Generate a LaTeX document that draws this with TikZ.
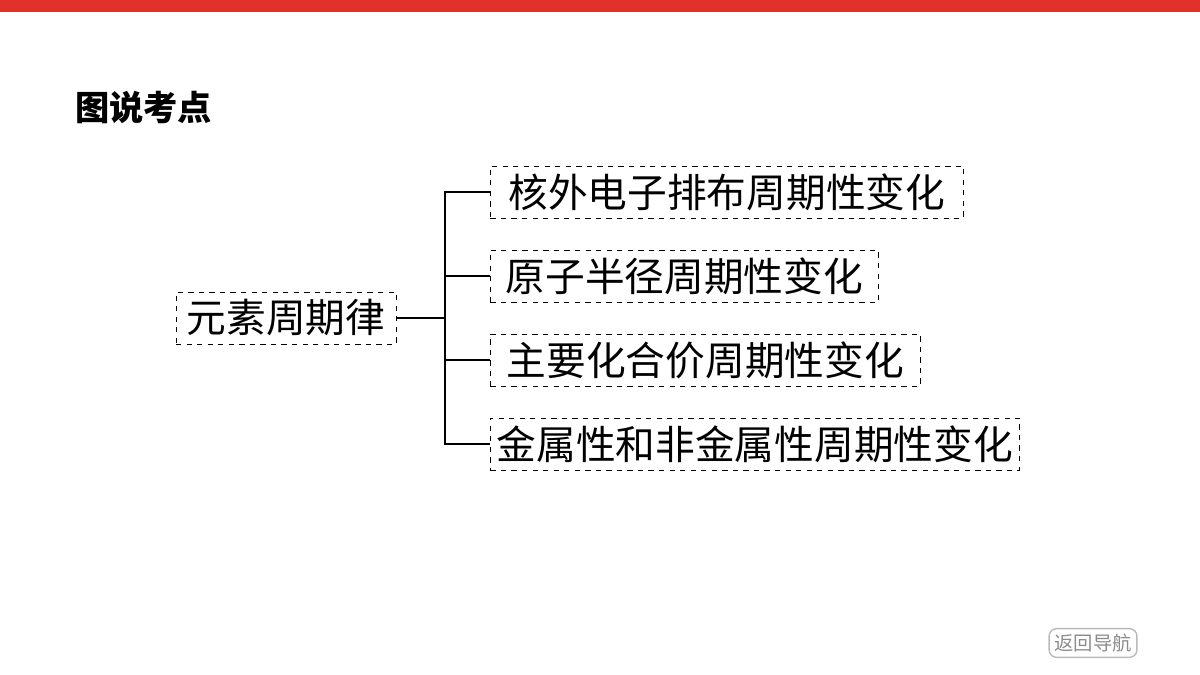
\documentclass[tikz,border=0pt]{standalone}
\usepackage{fontspec}
\setmainfont{Noto Sans CJK SC}
\newfontfamily\cjk{Noto Sans CJK SC}
\usetikzlibrary{calc}
\definecolor{barRed}{HTML}{E0312A}
\definecolor{navGray}{HTML}{8C8C8C}
\tikzset{
	box/.style={draw, dashed, inner xsep=0.12cm, inner ysep=0pt, minimum height=1.04cm,
		font=\cjk\fontsize{22.6pt}{22.6pt}\selectfont},
	kid/.style={box, anchor=west, minimum width=#1},
	link/.style={semithick}
}
\begin{document}
\begin{tikzpicture}[x=0.02cm,y=-0.02cm]
				\useasboundingbox (0,0) rectangle (1200,675);
				\fill[barRed] (0,0) rectangle (1200,12) coordinate (bar);
				\node[anchor=west, font=\cjk\bfseries\fontsize{19.5pt}{19.5pt}\selectfont] (title) at (69,108) {图说考点};
				
				\node[box, minimum width=4.4cm] (law) at (286,318) {元素周期律};
				
				\node[kid=9.46cm] (k1) at (490,192) {核外电子排布周期性变化};
				\node[kid=7.76cm] (k2) at (490,276) {原子半径周期性变化};
				\node[kid=8.6cm] (k3) at (490,360) {主要化合价周期性变化};
				\node[kid=10.58cm] (k4) at (490,444) {金属性和非金属性周期性变化};
				
				\coordinate (fork) at (445,318);
				\draw[link] (law.east) -- (fork);
				\draw[link] (k1.west) -| (fork) |- (k4.west);
				\draw[link] (k2.west) -- (k2.west -| fork);
				\draw[link] (k3.west) -- (k3.west -| fork);
				
				\node[draw=navGray!60, thick, rounded corners=1.5mm, text=navGray, inner sep=3pt,
					font=\cjk\fontsize{11pt}{11pt}\selectfont] (back) at (1093,643) {返回导航};
			\end{tikzpicture}
\end{document}
